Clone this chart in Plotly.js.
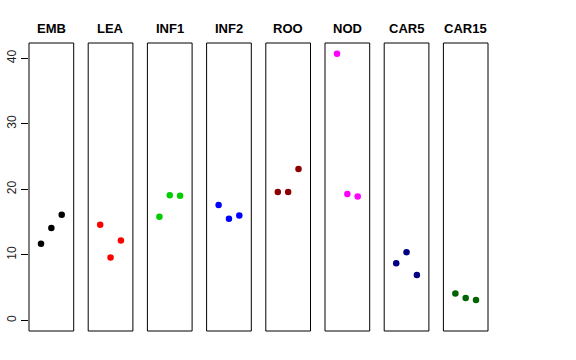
<!DOCTYPE html>
<html>
<head>
<meta charset="utf-8">
<script src="https://cdn.plot.ly/plotly-3.0.1.min.js"></script>
<style>html,body{margin:0;padding:0;background:#fff;}#chart{width:576px;height:360px;}</style>
</head>
<body>
<div id="chart"></div>
<script>
const groups = ["EMB","LEA","INF1","INF2","ROO","NOD","CAR5","CAR15"];
const colors = ["#000000","#FF0000","#00CD00","#0000FF","#8B0000","#FF00FF","#000080","#006400"];
const positions = [1, 2, 3];
const EMB = [11.7, 14.1, 16.1];
const LEA = [14.6, 9.6, 12.2];
const INF1 = [15.8, 19.1, 19.0];
const INF2 = [17.6, 15.5, 16.0];
const ROO = [19.6, 19.6, 23.1];
const NOD = [40.7, 19.3, 18.9];
const CAR5 = [8.7, 10.4, 6.9];
const CAR15 = [4.1, 3.4, 3.1];
const seriesValues = [EMB, LEA, INF1, INF2, ROO, NOD, CAR5, CAR15];
const yTicks = [0, 10, 20, 30, 40];

const W = 576, H = 360;
const mL = 29, mR = 88, mT = 43, mB = 29;
const plotW = W - mL - mR;
const panelW = 44.7, pitch = 59.2;

const traces = [];
const layout = {
  width: W, height: H,
  margin: {l: mL, r: mR, t: mT, b: mB, pad: 0},
  paper_bgcolor: "#fff", plot_bgcolor: "#fff",
  showlegend: false,
  font: {family: "Liberation Sans, Arial, sans-serif", color: "#000"},
  shapes: [], annotations: []
};

groups.forEach((g, i) => {
  const n = i + 1;
  const xa = n === 1 ? "x" : "x" + n;
  const xkey = n === 1 ? "xaxis" : "xaxis" + n;
  traces.push({
    type: "scatter", mode: "markers",
    x: positions, y: seriesValues[i],
    xaxis: xa, yaxis: "y",
    marker: {color: colors[i], size: 6.5},
    hoverinfo: "skip"
  });
  const d0 = (pitch * i) / plotW;
  const d1 = (pitch * i + panelW) / plotW;
  layout[xkey] = {
    domain: [d0, Math.min(d1, 1)],
    range: [-0.16, 4.16],
    showgrid: false, zeroline: false, showticklabels: false, ticks: "",
    showline: false, fixedrange: true
  };
  layout.shapes.push({
    type: "rect", xref: xa + " domain", yref: "y domain",
    x0: 0, x1: 1, y0: 0, y1: 1,
    line: {color: "#000", width: 1}, layer: "above"
  });
  layout.annotations.push({
    text: "<b>" + g + "</b>", xref: xa + " domain", yref: "paper",
    x: 0.5, y: 1, yshift: 15, xanchor: "center", yanchor: "middle",
    showarrow: false, font: {size: 13, color: "#000", family: "Liberation Sans, Arial, sans-serif"}
  });
});

layout.yaxis = {
  range: [-1.63, 42.33],
  tickvals: yTicks, ticktext: yTicks.map(String),
  ticks: "outside", ticklen: 7, tickcolor: "#000", tickwidth: 1,
  tickangle: -90, tickfont: {size: 12, color: "#222"},
  showgrid: false, zeroline: false, showline: false, fixedrange: true,
  anchor: "x"
};

Plotly.newPlot("chart", traces, layout, {staticPlot: true, displayModeBar: false});
</script>
</body>
</html>
